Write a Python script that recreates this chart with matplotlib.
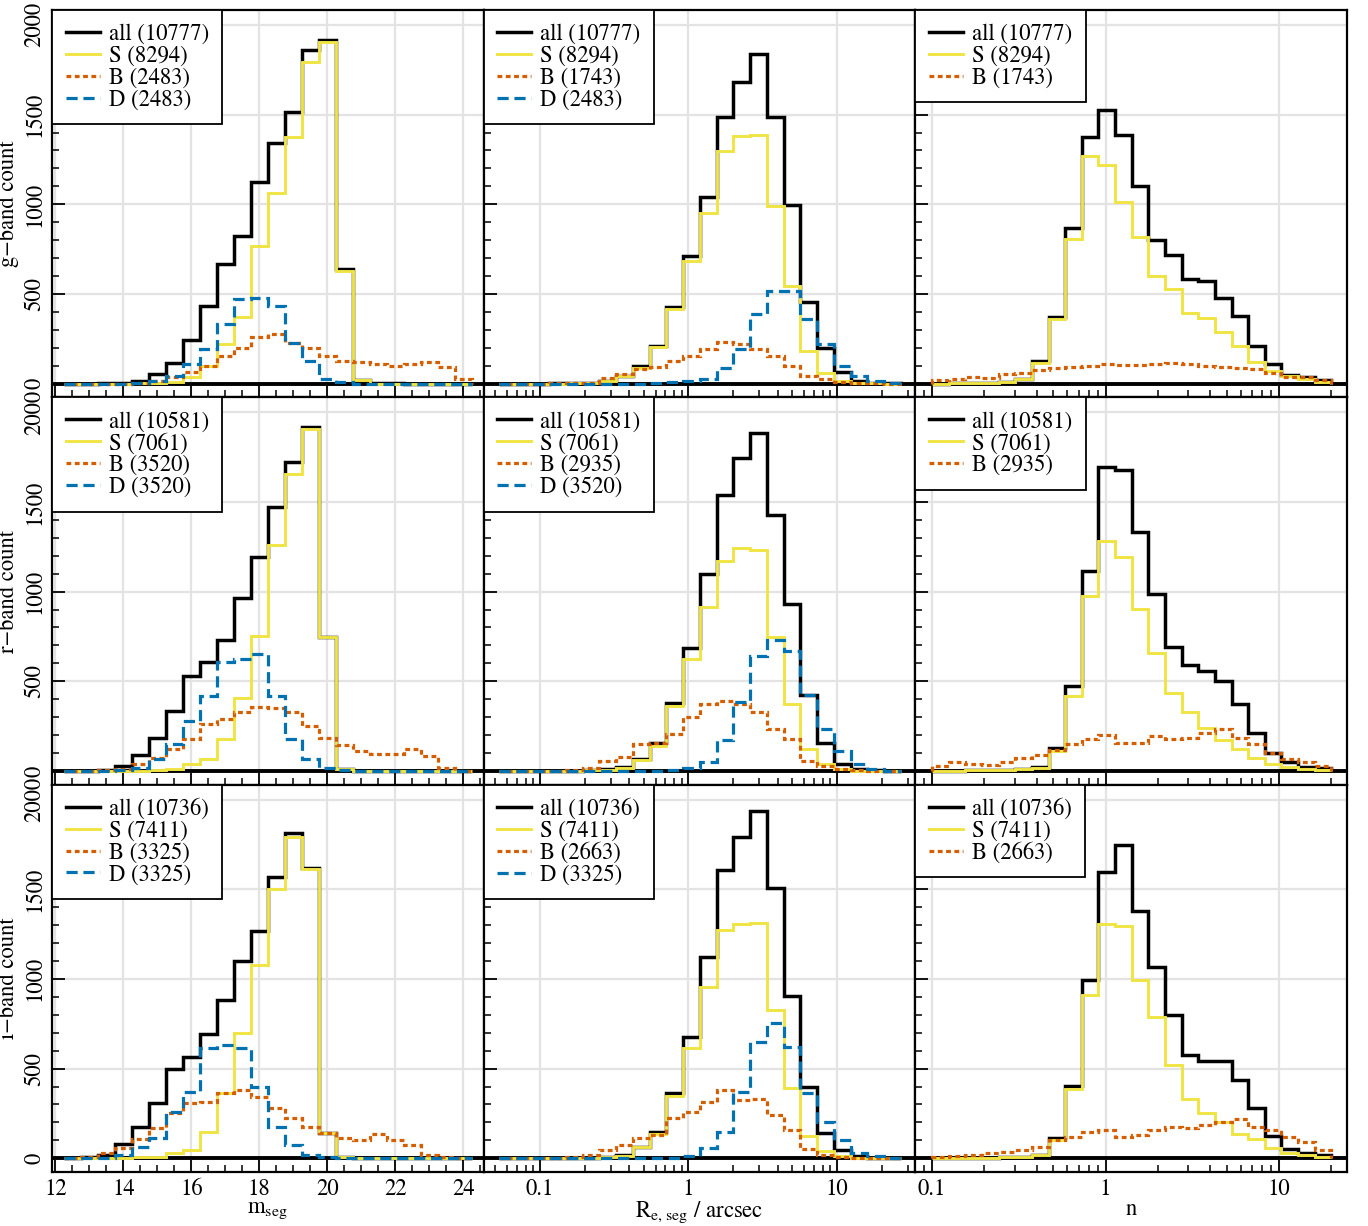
import numpy as np
import matplotlib.pyplot as plt
import matplotlib.ticker as mtick
from matplotlib.lines import Line2D

plt.rcParams['font.family'] = 'STIXGeneral'
plt.rcParams['mathtext.fontset'] = 'stix'
plt.rcParams['font.size'] = 16.3

# bin edges of the three histogram columns
mag_edges = np.arange(12.25, 24.26, 0.5)
re_edges = np.logspace(-1.276, 1.430, 25)
n_edges = np.logspace(-1, np.log10(20), 25)

# legend counts: all, S, B (mag), B (Re), B (n), D
g_counts = [10777, 8294, 2483, 1743, 1743, 2483]
r_counts = [10581, 7061, 3520, 2935, 2935, 3520]
i_counts = [10736, 7411, 3325, 2663, 2663, 3325]

# m_seg histograms
g_mag_all = [0, 0, 2, 5, 15, 56, 117, 244, 434, 666, 824, 1122, 1339, 1516, 1860, 1916, 638, 19, 3, 1, 0, 0, 0, 0]
g_mag_S = [0, 0, 0, 0, 2, 5, 8, 34, 99, 220, 372, 765, 1062, 1373, 1795, 1903, 629, 19, 0, 0, 0, 0, 0, 0]
g_mag_B = [0, 0, 0, 0, 5, 15, 34, 62, 99, 155, 201, 261, 279, 229, 201, 155, 127, 118, 108, 99, 108, 121, 90, 24]
g_mag_D = [0, 0, 0, 0, 4, 15, 43, 108, 192, 331, 471, 480, 433, 229, 127, 24, 9, 0, 0, 0, 0, 0, 0, 0]
r_mag_all = [0, 2, 5, 28, 87, 186, 335, 530, 605, 729, 964, 1191, 1470, 1725, 1916, 744, 9, 0, 0, 0, 0, 0, 0, 0]
r_mag_S = [0, 0, 0, 0, 0, 3, 9, 37, 65, 177, 409, 753, 1261, 1656, 1907, 744, 13, 0, 0, 0, 0, 0, 0, 0]
r_mag_B = [0, 0, 3, 9, 37, 74, 121, 177, 260, 288, 326, 357, 353, 331, 251, 186, 143, 112, 93, 93, 121, 84, 19, 0]
r_mag_D = [0, 0, 0, 3, 19, 65, 149, 279, 419, 605, 623, 651, 419, 177, 65, 15, 6, 0, 0, 0, 0, 0, 0, 0]
i_mag_all = [0, 5, 19, 78, 173, 307, 496, 567, 693, 883, 1100, 1268, 1567, 1812, 1617, 143, 9, 0, 0, 0, 0, 0, 0, 0]
i_mag_S = [0, 0, 0, 4, 9, 9, 32, 46, 149, 362, 697, 1078, 1500, 1794, 1612, 139, 9, 0, 0, 0, 0, 0, 0, 0]
i_mag_B = [0, 9, 28, 56, 106, 167, 251, 310, 316, 362, 381, 344, 279, 223, 177, 139, 112, 102, 136, 102, 74, 19, 9, 0]
i_mag_D = [0, 0, 4, 19, 65, 112, 260, 372, 613, 632, 613, 396, 177, 74, 19, 6, 0, 0, 0, 0, 0, 0, 0, 0]

# R_e histograms
g_re_all = [0, 0, 0, 2, 3, 5, 16, 45, 99, 210, 428, 712, 1038, 1484, 1683, 1838, 1484, 997, 456, 201, 67, 15, 6, 2]
g_re_S = [0, 0, 0, 0, 3, 5, 15, 43, 89, 205, 415, 685, 954, 1298, 1382, 1388, 991, 545, 179, 61, 15, 6, 2, 0]
g_re_B = [0, 0, 0, 2, 4, 6, 33, 52, 80, 93, 126, 154, 192, 234, 219, 195, 154, 99, 43, 24, 11, 4, 2, 0]
g_re_D = [0, 0, 0, 0, 0, 0, 0, 0, 0, 2, 9, 15, 24, 89, 192, 387, 517, 517, 359, 223, 99, 43, 15, 6]
r_re_all = [0, 0, 0, 0, 0, 4, 8, 22, 66, 158, 381, 688, 1098, 1540, 1745, 1883, 1429, 930, 424, 153, 41, 9, 3, 1]
r_re_S = [0, 0, 0, 0, 0, 3, 6, 19, 63, 140, 363, 623, 912, 1168, 1243, 1232, 748, 372, 121, 41, 9, 2, 0, 0]
r_re_B = [0, 0, 0, 0, 6, 19, 56, 78, 149, 158, 208, 301, 372, 391, 372, 326, 233, 177, 56, 28, 9, 3, 0, 0]
r_re_D = [0, 0, 0, 0, 0, 0, 0, 0, 0, 0, 3, 15, 52, 171, 387, 642, 729, 670, 424, 233, 112, 41, 9, 2]
i_re_all = [0, 0, 0, 0, 0, 4, 8, 19, 65, 149, 362, 678, 1125, 1608, 1790, 1939, 1506, 905, 400, 143, 46, 13, 4, 1]
i_re_S = [0, 0, 0, 0, 0, 3, 5, 13, 63, 136, 348, 613, 957, 1273, 1307, 1310, 827, 390, 125, 43, 13, 3, 0, 0]
i_re_B = [0, 0, 0, 0, 6, 19, 46, 74, 112, 130, 223, 260, 316, 381, 325, 329, 242, 158, 50, 19, 9, 0, 0, 0]
i_re_D = [0, 0, 0, 0, 0, 0, 0, 0, 0, 0, 3, 13, 56, 149, 372, 651, 753, 619, 362, 204, 99, 28, 13, 4]

# Sersic n histograms
g_n_all = [0, 2, 3, 5, 10, 28, 127, 374, 865, 1377, 1527, 1388, 1103, 802, 716, 582, 573, 480, 378, 207, 108, 49, 34, 19]
g_n_S = [0, 2, 3, 5, 10, 24, 117, 359, 809, 1267, 1219, 1014, 815, 601, 527, 393, 368, 285, 210, 121, 71, 43, 28, 9]
g_n_B = [19, 28, 34, 30, 52, 61, 74, 89, 95, 98, 108, 104, 104, 108, 112, 108, 98, 93, 89, 80, 61, 37, 34, 19]
r_n_all = [1, 2, 3, 4, 5, 9, 22, 130, 471, 1113, 1693, 1678, 1330, 986, 692, 592, 558, 499, 372, 210, 102, 47, 22, 19]
r_n_S = [1, 2, 3, 4, 5, 9, 19, 112, 419, 977, 1284, 1191, 902, 660, 437, 331, 238, 171, 121, 74, 37, 24, 9, 4]
r_n_B = [28, 52, 37, 33, 52, 74, 87, 115, 149, 177, 199, 158, 158, 192, 177, 186, 214, 233, 186, 149, 102, 65, 52, 28]
i_n_all = [1, 2, 3, 4, 5, 9, 18, 112, 403, 994, 1599, 1747, 1381, 1065, 799, 576, 543, 543, 437, 279, 125, 50, 28, 19]
i_n_S = [1, 2, 3, 4, 5, 9, 16, 102, 385, 911, 1307, 1297, 994, 790, 520, 329, 251, 201, 136, 106, 56, 28, 19, 6]
i_n_B = [9, 13, 19, 32, 37, 46, 65, 102, 121, 149, 158, 121, 130, 158, 177, 167, 186, 204, 217, 177, 158, 121, 93, 46]

bands = ['g', 'r', 'i']
counts = [g_counts, r_counts, i_counts]
mag_data = [(g_mag_all, g_mag_S, g_mag_B, g_mag_D),
            (r_mag_all, r_mag_S, r_mag_B, r_mag_D),
            (i_mag_all, i_mag_S, i_mag_B, i_mag_D)]
re_data = [(g_re_all, g_re_S, g_re_B, g_re_D),
           (r_re_all, r_re_S, r_re_B, r_re_D),
           (i_re_all, i_re_S, i_re_B, i_re_D)]
n_data = [(g_n_all, g_n_S, g_n_B, None),
          (r_n_all, r_n_S, r_n_B, None),
          (i_n_all, i_n_S, i_n_B, None)]

YELLOW = '#F0E442'
ORANGE = '#D55E00'
BLUE = '#0072B2'
B_LS = (0, (1.5, 1.1))
D_LS = (0, (3.5, 1.8))

fig, axes = plt.subplots(3, 3, figsize=(13.68, 12.26), dpi=100,
                         gridspec_kw=dict(hspace=0, wspace=0))
fig.subplots_adjust(left=0.038, right=0.9846, top=0.9918, bottom=0.044)

for row in range(3):
    cnt = counts[row]
    for col, (data, edges) in enumerate([(mag_data, mag_edges), (re_data, re_edges), (n_data, n_edges)]):
        ax = axes[row, col]
        h_all, h_s, h_b, h_d = data[row]
        ax.grid(True, which='major', color='#e3e3e3', lw=1.6)
        ax.set_axisbelow(True)
        ax.axhline(0, color='k', lw=2.8, zorder=1.5)
        ax.stairs(h_all, edges, color='k', lw=2.5, zorder=2)
        ax.stairs(h_s, edges, color=YELLOW, lw=2.1, zorder=3)
        ax.stairs(h_b, edges, color=ORANGE, lw=2.3, linestyle=B_LS, zorder=4)
        handles = [Line2D([], [], color='k', lw=2.5),
                   Line2D([], [], color=YELLOW, lw=2.1),
                   Line2D([], [], color=ORANGE, lw=2.3, linestyle=B_LS)]
        labels = ['all (%d)' % cnt[0], 'S (%d)' % cnt[1], 'B (%d)' % cnt[2 + col]]
        if h_d is not None:
            ax.stairs(h_d, edges, color=BLUE, lw=2.3, linestyle=D_LS, zorder=5)
            handles.append(Line2D([], [], color=BLUE, lw=2.3, linestyle=D_LS))
            labels.append('D (%d)' % cnt[5])
        leg = ax.legend(handles, labels, loc='upper left', borderaxespad=0,
                        fancybox=False, edgecolor='k', framealpha=1,
                        handlelength=1.5, handletextpad=0.4,
                        labelspacing=0.02, borderpad=0.6)
        leg.get_frame().set_linewidth(1.3)

        ax.set_ylim(-77, 2083)
        ax.yaxis.set_major_locator(mtick.MultipleLocator(500))
        ax.yaxis.set_minor_locator(mtick.MultipleLocator(100))
        if col == 0:
            ax.set_xlim(11.9, 24.6)
            ax.xaxis.set_major_locator(mtick.MultipleLocator(2))
            ax.xaxis.set_minor_locator(mtick.MultipleLocator(0.5))
        else:
            ax.set_xscale('log')
            ax.set_xlim((0.0418, 33.6) if col == 1 else (0.080, 24.6))
            ax.xaxis.set_major_formatter(mtick.FuncFormatter(lambda v, p: '%g' % v))

        ax.tick_params(which='both', direction='in', top=False, right=False, pad=5)
        ax.tick_params(which='major', length=9, width=1.3)
        ax.tick_params(which='minor', length=5, width=1.1)
        for sp in ax.spines.values():
            sp.set_linewidth(1.6)

        if col == 0:
            ax.tick_params(axis='y', labelrotation=90)
            for lab in ax.get_yticklabels():
                lab.set_va('center')
            ax.set_ylabel('%s\u2212band count' % bands[row], labelpad=3)
        else:
            ax.tick_params(axis='y', labelleft=False)
        if row < 2:
            ax.tick_params(axis='x', labelbottom=False)

axes[2, 0].set_xlabel(r'$\mathrm{m_{seg}}$', labelpad=-1)
axes[2, 1].set_xlabel(r'$\mathrm{R_{e,\,seg}}$ / arcsec', labelpad=-1)
axes[2, 2].set_xlabel('n', labelpad=-1)

plt.savefig('out.png', dpi=100)
